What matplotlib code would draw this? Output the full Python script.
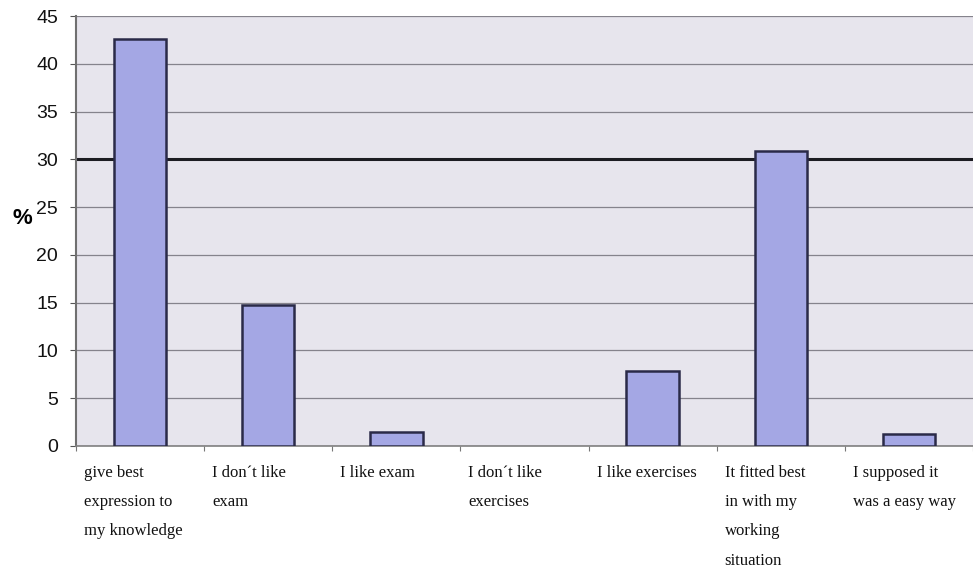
import matplotlib.pyplot as plt
from matplotlib.transforms import blended_transform_factory, offset_copy

categories = [
    "give best\nexpression to\nmy knowledge",
    "I don\u00b4t like\nexam",
    "I like exam",
    "I don\u00b4t like\nexercises",
    "I like exercises",
    "It fitted best\nin with my\nworking\nsituation",
    "I supposed it\nwas a easy way",
]
percent = [42.6, 14.8, 1.5, 0.0, 7.9, 30.9, 1.25]
reference_level = 30
y_ticks = [0, 5, 10, 15, 20, 25, 30, 35, 40, 45]

fig = plt.figure(figsize=(9.73, 5.74), dpi=100)
ax = fig.add_axes([0.0781, 0.223, 0.9219, 0.749])
ax.set_facecolor("#e7e5ed")

x = list(range(len(categories)))
edges = ["#2a2a48" if v > 0 else "none" for v in percent]
ax.bar(x, percent, width=0.41, color="#a4a7e4", edgecolor=edges,
       linewidth=1.8, zorder=3)

# bold line at the 30 % mark, behind the bars
ax.axhline(reference_level, color="#1c1c22", linewidth=2.2, zorder=2)

ax.set_xlim(-0.5, len(categories) - 0.5)
ax.set_ylim(0, 45)
ax.set_yticks(y_ticks)
ax.yaxis.grid(True, color="#85838c", linewidth=0.9, zorder=0)
ax.set_axisbelow(True)

ax.tick_params(axis="y", labelsize=14, length=4.3, color="#555", pad=8.5,
               labelcolor="#111")
ax.set_xticks([i - 0.5 for i in x] + [len(categories) - 0.5])
ax.tick_params(axis="x", length=3.5, color="#777", labelbottom=False)
for lbl in ax.get_yticklabels():
    lbl.set_family("Liberation Sans")

for side in ["top", "right"]:
    ax.spines[side].set_visible(False)
ax.spines["left"].set_color("#707070")
ax.spines["left"].set_linewidth(1.5)
ax.spines["bottom"].set_color("#808080")
ax.spines["bottom"].set_linewidth(1.2)

ax.set_ylabel("%", rotation=0, fontsize=16, fontweight="bold",
              family="Liberation Sans", va="center", ha="center")
ax.yaxis.set_label_coords(-0.060, 0.53)

# category names, left aligned under each slot
trans = blended_transform_factory(ax.transData, ax.transAxes)
trans = offset_copy(trans, fig=fig, x=8, y=-19, units="dots")
for i, name in enumerate(categories):
    ax.text(i - 0.5, 0, name, transform=trans, ha="left", va="top",
            family="Liberation Serif", fontsize=12, linespacing=2.1,
            color="#111")

fig.savefig("out.png", dpi=100)
